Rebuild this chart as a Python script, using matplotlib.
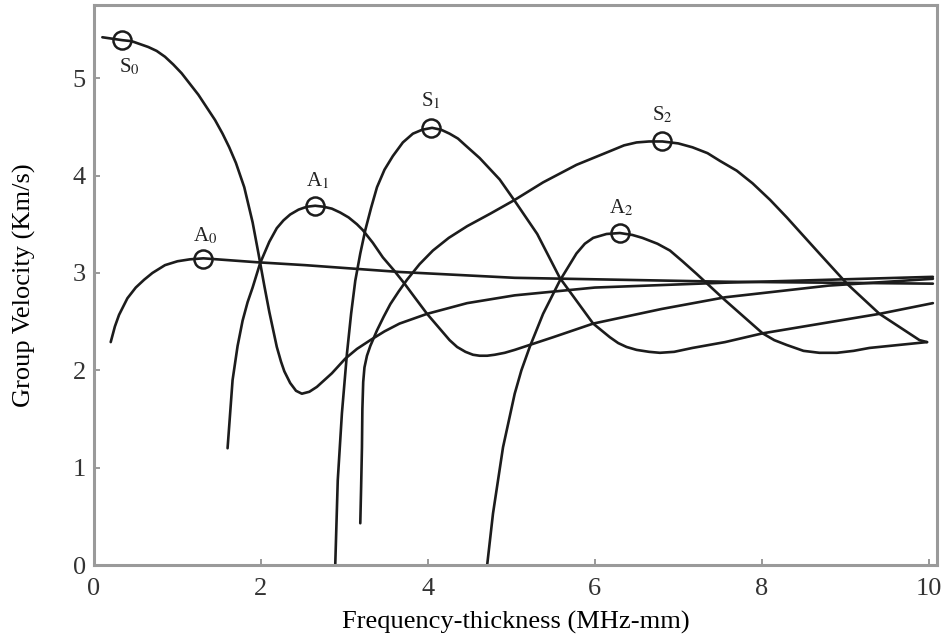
import numpy as np
import matplotlib.pyplot as plt

# Lamb wave group velocity dispersion curves
s0_x = [0.10, 0.34, 0.45, 0.55, 0.65, 0.75, 0.85, 0.95, 1.05, 1.15, 1.25, 1.35, 1.45, 1.54,
        1.62, 1.70, 1.80, 1.90, 1.97, 2.04, 2.10, 2.19, 2.24, 2.28, 2.35, 2.42, 2.49, 2.58,
        2.67, 2.76, 2.85, 3.01, 3.15, 3.31, 3.48, 3.66, 3.99, 4.47, 5.04, 6.00, 7.56, 8.80,
        10.05]
s0_y = [5.42, 5.39, 5.38, 5.35, 5.32, 5.28, 5.22, 5.14, 5.05, 4.94, 4.83, 4.70, 4.57, 4.43,
        4.29, 4.13, 3.88, 3.52, 3.20, 2.87, 2.60, 2.24, 2.09, 1.99, 1.87, 1.79, 1.76, 1.78,
        1.83, 1.90, 1.97, 2.12, 2.22, 2.31, 2.40, 2.48, 2.58, 2.69, 2.77, 2.85, 2.90, 2.93,
        2.96]

a0_x = [0.20, 0.25, 0.30, 0.40, 0.50, 0.60, 0.70, 0.85, 1.00, 1.15, 1.31, 1.95, 2.53, 3.66,
        5.04, 6.30, 7.56, 8.80, 10.05]
a0_y = [2.29, 2.45, 2.57, 2.74, 2.85, 2.93, 3.00, 3.08, 3.12, 3.14, 3.15, 3.11, 3.08, 3.01,
        2.95, 2.93, 2.91, 2.90, 2.89]

a1_x = [1.60, 1.63, 1.66, 1.72, 1.78, 1.84, 1.90, 1.99, 2.10, 2.19, 2.27, 2.35, 2.45, 2.55,
        2.65, 2.75, 2.85, 2.95, 3.05, 3.15, 3.22, 3.34, 3.46, 3.59, 3.72, 3.85, 3.99, 4.13,
        4.26, 4.35, 4.45, 4.54, 4.62, 4.71, 4.80, 4.92, 5.04, 5.50, 5.98, 6.80, 7.56, 8.80,
        10.05]
a1_y = [1.20, 1.55, 1.90, 2.25, 2.51, 2.70, 2.85, 3.10, 3.32, 3.46, 3.54, 3.60, 3.65, 3.68,
        3.69, 3.68, 3.66, 3.62, 3.57, 3.50, 3.44, 3.31, 3.16, 3.03, 2.89, 2.74, 2.58, 2.44,
        2.31, 2.24, 2.19, 2.16, 2.15, 2.15, 2.16, 2.18, 2.21, 2.34, 2.48, 2.63, 2.75, 2.87,
        2.94]

s1_x = [2.89, 2.92, 2.97, 3.03, 3.08, 3.13, 3.19, 3.25, 3.32, 3.39, 3.48, 3.58, 3.70, 3.82,
        3.93, 4.05, 4.16, 4.26, 4.36, 4.45, 4.62, 4.86, 5.04, 5.31, 5.58, 5.98, 6.18, 6.28,
        6.38, 6.50, 6.65, 6.78, 6.95, 7.17, 7.56, 8.01, 9.41, 10.05]
s1_y = [0.00, 0.87, 1.56, 2.17, 2.58, 2.92, 3.20, 3.44, 3.67, 3.88, 4.06, 4.20, 4.34, 4.43,
        4.47, 4.49, 4.47, 4.43, 4.38, 4.31, 4.18, 3.96, 3.74, 3.40, 2.95, 2.48, 2.34, 2.28,
        2.24, 2.21, 2.19, 2.18, 2.19, 2.23, 2.29, 2.38, 2.58, 2.69]

s2_x = [3.19, 3.20, 3.21, 3.215, 3.225, 3.24, 3.27, 3.31, 3.39, 3.47, 3.55, 3.65, 3.75, 3.90,
        4.06, 4.25, 4.47, 4.75, 5.04, 5.38, 5.78, 6.18, 6.35, 6.50, 6.65, 6.81, 7.00, 7.17,
        7.35, 7.50, 7.70, 7.89, 8.10, 8.30, 8.50, 8.69, 9.02, 9.41, 9.89, 9.98]
s2_y = [0.43, 0.80, 1.21, 1.60, 1.88, 2.03, 2.15, 2.25, 2.41, 2.55, 2.68, 2.81, 2.93, 3.09,
        3.23, 3.36, 3.48, 3.61, 3.75, 3.93, 4.11, 4.25, 4.31, 4.34, 4.35, 4.35, 4.33, 4.29,
        4.23, 4.15, 4.05, 3.92, 3.75, 3.57, 3.38, 3.20, 2.89, 2.58, 2.31, 2.29]

a2_x = [4.71, 4.78, 4.90, 5.04, 5.12, 5.22, 5.38, 5.58, 5.78, 5.88, 5.98, 6.14, 6.30, 6.45,
        6.57, 6.75, 6.90, 7.05, 7.22, 7.56, 8.01, 8.15, 8.30, 8.50, 8.69, 8.90, 9.10, 9.29,
        9.98]
a2_y = [0.00, 0.53, 1.21, 1.76, 2.00, 2.24, 2.58, 2.92, 3.20, 3.30, 3.36, 3.40, 3.41, 3.39,
        3.36, 3.30, 3.23, 3.12, 2.99, 2.72, 2.38, 2.31, 2.26, 2.20, 2.18, 2.18, 2.20, 2.23,
        2.29]

# marked points (circles) and their labels
mark_lbls = ["S$_0$", "A$_0$", "A$_1$", "S$_1$", "S$_2$", "A$_2$"]
mark_x = [0.34, 1.31, 2.65, 4.04, 6.81, 6.30]
mark_y = [5.39, 3.14, 3.69, 4.49, 4.35, 3.41]

plt.rcParams['font.family'] = ['Liberation Serif', 'DejaVu Serif']
plt.rcParams['mathtext.fontset'] = 'stix'

fig = plt.figure(figsize=(9.43, 6.4), dpi=100)
ax = fig.add_axes([0.0997, 0.117, 0.894, 0.875])

line_kw = dict(color="#1c1c1c", lw=1.9, solid_capstyle="round", solid_joinstyle="round")
for xs, ys in [(s0_x, s0_y), (a0_x, a0_y), (a1_x, a1_y),
               (s1_x, s1_y), (s2_x, s2_y), (a2_x, a2_y)]:
    ax.plot(xs, ys, **line_kw)

ax.plot(mark_x, mark_y, "o", ms=13, mfc="none", mec="#1c1c1c", mew=1.8)

# label offsets in points (S0 sits below its circle, the rest above)
offsets = [(5, -19), (1, 17), (2, 18), (0, 19), (0, 19), (1, 18)]
for lbl, xv, yv, off in zip(mark_lbls, mark_x, mark_y, offsets):
    ax.annotate(lbl, (xv, yv), xytext=off, textcoords="offset points",
                ha="center", va="center", fontsize=15, color="#222222")

ax.set(xlim=(0, 10.1), ylim=(0, 5.75),
       xticks=range(0, 11, 2), yticks=range(0, 6))
ax.set_xlabel("Frequency-thickness (MHz-mm)", fontsize=19, labelpad=8)
ax.set_ylabel("Group Velocity (Km/s)", fontsize=19, labelpad=26)

for sp in ax.spines.values():
    sp.set_color("#9a9a9a")
    sp.set_linewidth(2.2)
ax.tick_params(direction="in", length=4, width=1.2, color="#888888",
               labelsize=19, labelcolor="#333333")
ax.tick_params(axis="x", pad=9)
ax.tick_params(axis="y", pad=6)

fig.savefig("out.png", dpi=100)
